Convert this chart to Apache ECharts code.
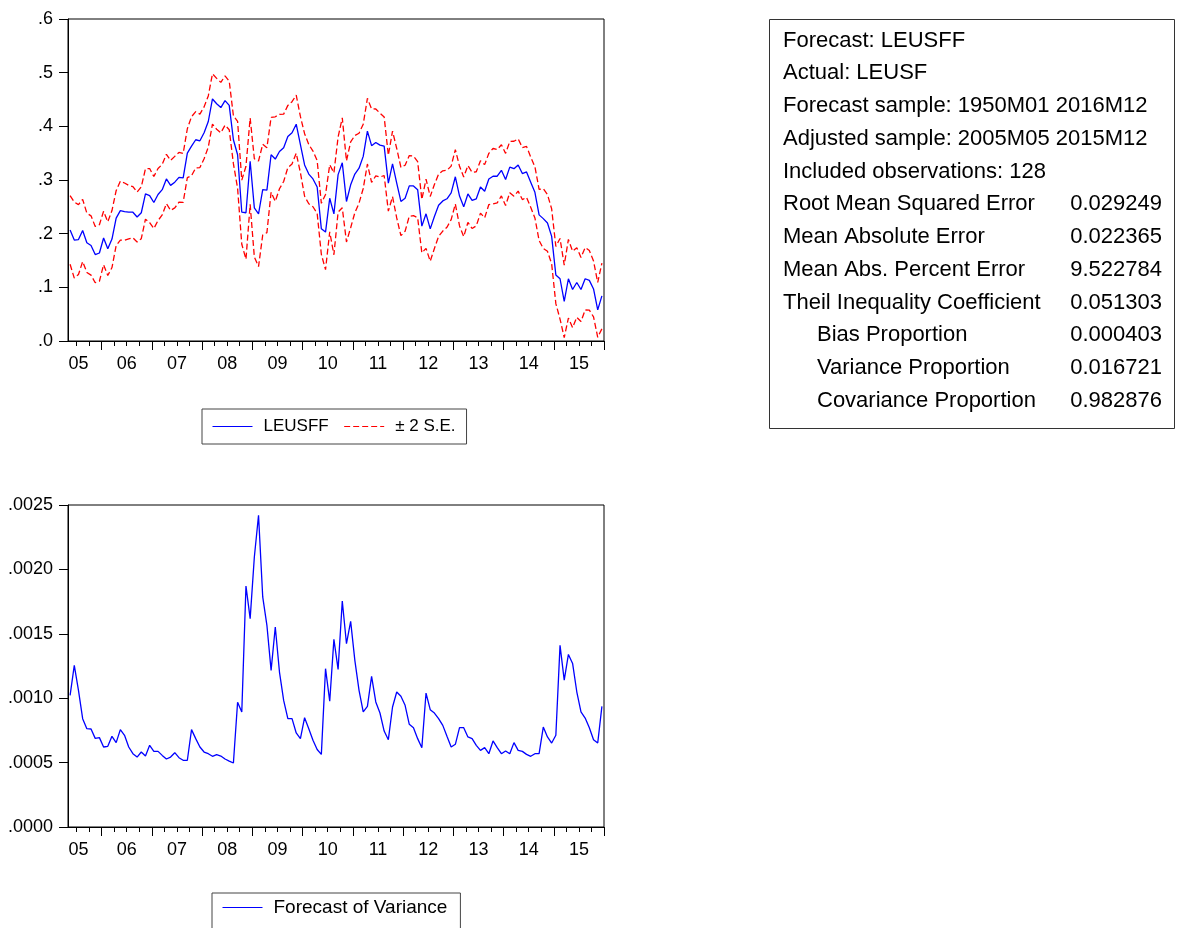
<!DOCTYPE html>
<html>
<head>
<meta charset="utf-8">
<script src="https://cdn.jsdelivr.net/npm/echarts@6/dist/echarts.min.js"></script>
<style>
html, body { margin: 0; padding: 0; background: #fff; }
#chart { width: 1178px; height: 928px; }
</style>
</head>
<body>
<div id="chart"></div>
<script>
// ---- Sample: monthly, 2005M05 .. 2015M12 (128 observations) ----
const sampleStart = { year: 2005, month: 5 };
const sampleSize = 128;
const months = [];
for (let k = 0; k < sampleSize; k++) {
  const m = sampleStart.month - 1 + k;
  months.push((sampleStart.year + Math.floor(m / 12)) + 'M' + String(m % 12 + 1).padStart(2, '0'));
}

// Year labels shown under the date axis
const yearLabels = ['05', '06', '07', '08', '09', '10', '11', '12', '13', '14', '15'];

// Forecast of LEUSF (LEUSFF)
const forecast = [
  0.207, 0.188, 0.189, 0.206, 0.183, 0.178, 0.161, 0.164, 0.192, 0.172,
  0.190, 0.229, 0.243, 0.241, 0.240, 0.240, 0.231, 0.239, 0.274, 0.271,
  0.258, 0.273, 0.282, 0.302, 0.290, 0.296, 0.305, 0.304, 0.350, 0.363,
  0.375, 0.373, 0.388, 0.409, 0.451, 0.442, 0.435, 0.448, 0.439, 0.375,
  0.347, 0.240, 0.239, 0.335, 0.248, 0.237, 0.282, 0.281, 0.347, 0.339,
  0.353, 0.360, 0.381, 0.388, 0.404, 0.366, 0.328, 0.311, 0.302, 0.287,
  0.209, 0.203, 0.266, 0.237, 0.310, 0.332, 0.260, 0.291, 0.311, 0.322,
  0.344, 0.391, 0.364, 0.370, 0.365, 0.363, 0.294, 0.330, 0.294, 0.260,
  0.266, 0.289, 0.289, 0.282, 0.214, 0.237, 0.209, 0.232, 0.253, 0.261,
  0.265, 0.276, 0.306, 0.270, 0.250, 0.274, 0.262, 0.265, 0.287, 0.279,
  0.302, 0.307, 0.307, 0.318, 0.301, 0.324, 0.321, 0.328, 0.312, 0.315,
  0.296, 0.277, 0.235, 0.228, 0.220, 0.195, 0.123, 0.116, 0.074, 0.116,
  0.096, 0.109, 0.096, 0.116, 0.113, 0.097, 0.058, 0.084
];

// Forecast of variance
const variance = [
  0.001022, 0.001255, 0.001061, 0.000841, 0.000763, 0.000761, 0.000688, 0.000694, 0.000621, 0.000626,
  0.000704, 0.000655, 0.000756, 0.000712, 0.000621, 0.000569, 0.000543, 0.000582, 0.000551, 0.000634,
  0.000587, 0.000587, 0.000556, 0.000528, 0.000543, 0.000577, 0.000538, 0.000518, 0.000518, 0.000756,
  0.000686, 0.000621, 0.000582, 0.000569, 0.000549, 0.000562, 0.000551, 0.000528, 0.000512, 0.000497,
  0.000968, 0.000893, 0.001871, 0.001618, 0.002096, 0.002420, 0.001786, 0.001566, 0.001216, 0.001553,
  0.001203, 0.000983, 0.000841, 0.000841, 0.000730, 0.000686, 0.000849, 0.000763, 0.000673, 0.000602,
  0.000564, 0.001229, 0.000976, 0.001457, 0.001224, 0.001755, 0.001423, 0.001597, 0.001294, 0.001061,
  0.000893, 0.000937, 0.001170, 0.000971, 0.000885, 0.000745, 0.000678, 0.000932, 0.001048, 0.001015,
  0.000945, 0.000797, 0.000771, 0.000686, 0.000616, 0.001040, 0.000911, 0.000885, 0.000841, 0.000789,
  0.000704, 0.000621, 0.000642, 0.000771, 0.000771, 0.000699, 0.000686, 0.000634, 0.000595, 0.000616,
  0.000569, 0.000668, 0.000616, 0.000569, 0.000590, 0.000569, 0.000655, 0.000595, 0.000587, 0.000564,
  0.000549, 0.000569, 0.000569, 0.000776, 0.000699, 0.000652, 0.000712, 0.001410, 0.001140, 0.001340,
  0.001270, 0.001050, 0.000893, 0.000846, 0.000771, 0.000678, 0.000652, 0.000937
];

// Forecast evaluation statistics
const headerLines = [
  'Forecast: LEUSFF',
  'Actual: LEUSF',
  'Forecast sample: 1950M01 2016M12',
  'Adjusted sample: 2005M05 2015M12',
  'Included observations: 128'
];
const statNames = [
  'Root Mean Squared Error',
  'Mean Absolute Error',
  'Mean Abs. Percent Error',
  'Theil Inequality Coefficient',
  'Bias Proportion',
  'Variance Proportion',
  'Covariance Proportion'
];
const statValues = ['0.029249', '0.022365', '9.522784', '0.051303', '0.000403', '0.016721', '0.982876'];
const statIndented = [false, false, false, false, true, true, true];

// ±2 standard-error band around the forecast (S.E. = square root of the forecast variance)
const upperBand = forecast.map((f, i) => f + 2 * Math.sqrt(variance[i]));
const lowerBand = forecast.map((f, i) => f - 2 * Math.sqrt(variance[i]));

const FONT = "'Liberation Sans', Arial, sans-serif";
const BLUE = '#0000ff';
const RED = '#ff0000';
const TICK_FONT = 18;
const LINE_W = 1.3;
const DASH = [6, 3];

const monthOf = v => v.slice(5);
const yearOf = v => +v.slice(0, 4);

function dateAxes(gridIndex) {
  const base = {
    type: 'category', gridIndex: gridIndex, data: months, boundaryGap: true,
    position: 'bottom', splitLine: { show: false }
  };
  return [
    // quarterly ticks + year labels (centred on mid-year; the first, partial year stays inside)
    Object.assign({}, base, {
      axisLine: { show: true, lineStyle: { color: '#000', width: 1 } },
      axisTick: {
        show: true, length: 5, lineStyle: { color: '#000', width: 1 },
        interval: (i, v) => ['01', '04', '07', '10'].indexOf(monthOf(v)) >= 0
      },
      axisLabel: {
        show: true, margin: 14, color: '#000',
        interval: (i, v) => monthOf(v) === '07',
        formatter: v => {
          const y = yearOf(v) - sampleStart.year;
          return (y === 0 ? '{first|' : '{mid|') + yearLabels[y] + '}';
        },
        rich: {
          first: { fontSize: TICK_FONT, fontFamily: FONT, color: '#000' },
          mid: { fontSize: TICK_FONT, fontFamily: FONT, color: '#000', padding: [0, 4, 0, 0] }
        }
      }
    }),
    // annual (longer) ticks
    Object.assign({}, base, {
      axisLine: { show: false },
      axisTick: {
        show: true, length: 9, lineStyle: { color: '#000', width: 1 },
        interval: (i, v) => monthOf(v) === '01'
      },
      axisLabel: { show: false }
    })
  ];
}

function valueAxis(gridIndex, max, step, digits) {
  return {
    type: 'value', gridIndex: gridIndex, min: 0, max: max, interval: step,
    axisLine: { show: true, lineStyle: { color: '#000', width: 1 } },
    axisTick: { show: true, length: 9, lineStyle: { color: '#000', width: 1 } },
    splitLine: { show: false },
    axisLabel: {
      margin: 15, fontSize: TICK_FONT, fontFamily: FONT, color: '#000',
      padding: [0, 0, 8, 0],
      formatter: v => v.toFixed(digits).replace(/^0/, '')
    }
  };
}

function legendBox(names, left, top, padding, gap, fontSize) {
  return {
    data: names, left: left, top: top, orient: 'horizontal',
    selectedMode: false, backgroundColor: '#fff',
    borderColor: '#444', borderWidth: 1, borderRadius: 0,
    padding: padding, itemGap: gap, itemWidth: 40, itemHeight: 14,
    itemStyle: { opacity: 0, borderWidth: 0 },
    lineStyle: { width: 1 },
    textStyle: { fontSize: fontSize, fontFamily: FONT, color: '#000', padding: [0, 0, 0, 6] }
  };
}

// statistics table
const graphics = [{
  type: 'rect', shape: { x: 769.5, y: 19.5, width: 405, height: 409 },
  style: { fill: '#fff', stroke: '#333', lineWidth: 1 }, z: 10
}];
const rowTop = 40.5, rowStep = 32.75;
headerLines.forEach((t, k) => {
  graphics.push({
    type: 'text', x: 783, y: rowTop + k * rowStep,
    style: { text: t, fill: '#000', font: '22px ' + FONT, verticalAlign: 'middle', align: 'left' }, z: 11
  });
});
statNames.forEach((t, k) => {
  const row = headerLines.length + k;
  graphics.push({
    type: 'text', x: statIndented[k] ? 817 : 783, y: rowTop + row * rowStep,
    style: { text: t, fill: '#000', font: '22px ' + FONT, verticalAlign: 'middle', align: 'left' }, z: 11
  });
  graphics.push({
    type: 'text', x: 1162, y: rowTop + row * rowStep,
    style: { text: statValues[k], fill: '#000', font: '22px ' + FONT, verticalAlign: 'middle', align: 'right' }, z: 11
  });
});

const chart = echarts.init(document.getElementById('chart'), null, { renderer: 'canvas' });
chart.setOption({
  animation: false,
  backgroundColor: '#fff',
  grid: [
    { left: 68, top: 19, width: 536, height: 322, show: true, borderColor: '#000', borderWidth: 1, backgroundColor: 'transparent' },
    { left: 68, top: 505, width: 536, height: 322, show: true, borderColor: '#000', borderWidth: 1, backgroundColor: 'transparent' }
  ],
  legend: [
    legendBox(['LEUSFF', '± 2 S.E.'], 202, 409, [9, 11, 9, 10], 15, 17),
    legendBox(['Forecast of Variance'], 212, 893, [5, 13, 14, 10], 12, 19)
  ],
  xAxis: dateAxes(0).concat(dateAxes(1)),
  yAxis: [valueAxis(0, 0.6, 0.1, 1), valueAxis(1, 0.0025, 0.0005, 4)],
  series: [
    { name: 'LEUSFF', type: 'line', xAxisIndex: 0, yAxisIndex: 0, data: forecast, symbol: 'none',
      color: BLUE, lineStyle: { color: BLUE, width: LINE_W }, z: 3 },
    { name: '± 2 S.E.', type: 'line', xAxisIndex: 0, yAxisIndex: 0, data: upperBand, symbol: 'none',
      color: RED, lineStyle: { color: RED, width: LINE_W, type: DASH }, z: 2 },
    { name: '± 2 S.E.', type: 'line', xAxisIndex: 0, yAxisIndex: 0, data: lowerBand, symbol: 'none',
      color: RED, lineStyle: { color: RED, width: LINE_W, type: DASH }, z: 2 },
    { name: 'Forecast of Variance', type: 'line', xAxisIndex: 2, yAxisIndex: 1, data: variance, symbol: 'none',
      color: BLUE, lineStyle: { color: BLUE, width: LINE_W }, z: 3 }
  ],
  graphic: graphics
});
</script>
</body>
</html>
